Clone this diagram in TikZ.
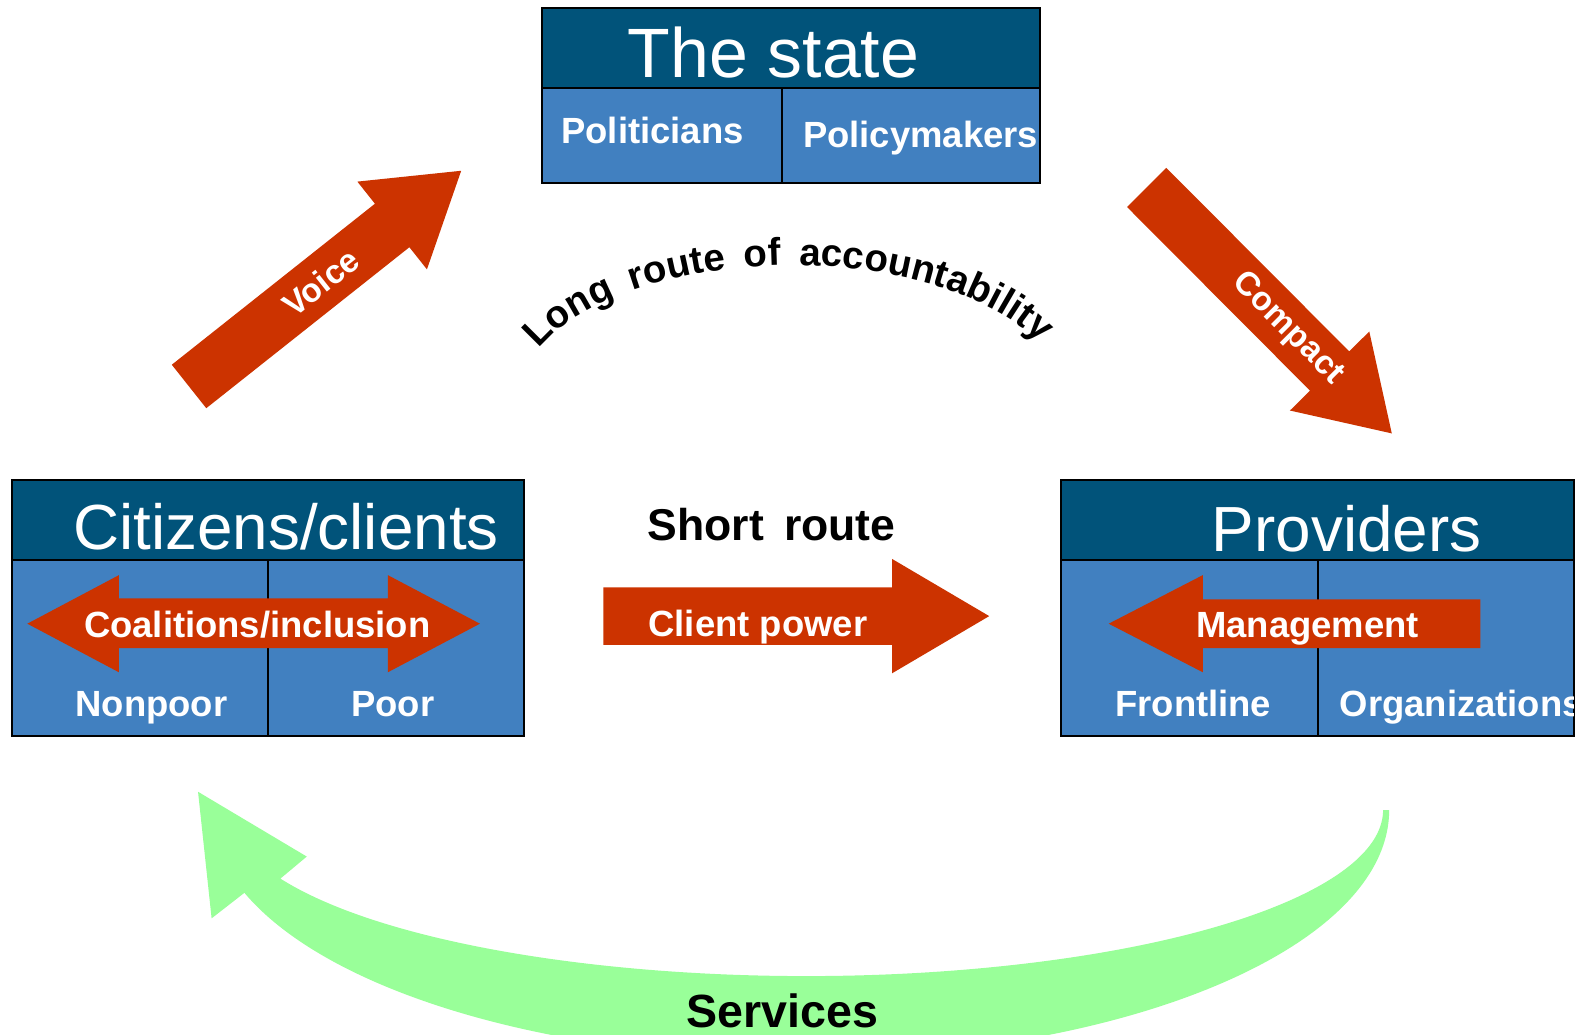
\documentclass[tikz,border=0pt]{standalone}
\usepackage{fontspec}
\setmainfont{Liberation Sans}
\usetikzlibrary{decorations.text}
\definecolor{hdrblue}{RGB}{1,83,122}
\definecolor{cellblue}{RGB}{65,128,192}
\definecolor{arrred}{RGB}{204,51,0}
\definecolor{svcgreen}{RGB}{153,255,153}
\newcommand\lrfont{\fontsize{38}{40}\selectfont\bfseries}
\tikzset{
  hdr/.style={fill=hdrblue, draw=black, line width=2pt},
  cell/.style={fill=cellblue, draw=black, line width=2pt},
  redarrow/.style={fill=arrred},
  title/.style={text=white, font=\fontsize{63}{70}\selectfont, anchor=base, inner sep=0pt},
  lbl/.style={text=white, font=\fontsize{36}{40}\selectfont\bfseries, anchor=base, inner sep=0pt},
  blk/.style={text=black, font=\fontsize{44}{48}\selectfont\bfseries, anchor=base, inner sep=0pt},
}
\begin{document}
\begin{tikzpicture}[x=1pt,y=-1pt]
\clip (0,0) rectangle (1568.4,1022.2);
\fill[white] (0,0) rectangle (1568.4,1022.2);

% ---------- The state ----------
\draw[hdr] (535,8) rectangle (1027,87);
\draw[cell] (535,87) rectangle (772,181);
\draw[cell] (772,87) rectangle (1027,181);
\node[title, font=\fontsize{69}{75}\selectfont] (state) at (764,77) {The state};
\node[lbl] (politicians) at (644.5,142) {Politicians};
\begin{scope}
  \clip (772,87) rectangle (1026,181);
  \node[lbl, anchor=base west] (policymakers) at (793,146) {Policymakers};
\end{scope}

% ---------- Citizens/clients ----------
\draw[hdr] (12,474) rectangle (518,553);
\draw[cell] (12,553) rectangle (265,727);
\draw[cell] (265,553) rectangle (518,727);
\node[title] (citizens) at (282.5,543) {Citizens/clients};
\fill[redarrow] (27,616) -- (117.5,568) -- (117.5,591) -- (383,591) -- (383,568)
  -- (474,616) -- (383,664) -- (383,640) -- (117.5,640) -- (117.5,664) -- cycle;
\node[lbl] (coalitions) at (254,630) {Coalitions/inclusion};
\node[lbl] (nonpoor) at (149.5,708) {Nonpoor};
\node[lbl] (poor) at (388,708) {Poor};

% ---------- Providers ----------
\draw[hdr] (1048,474) rectangle (1555,553);
\draw[cell] (1048,553) rectangle (1302,727);
\draw[cell] (1302,553) rectangle (1555,727);
\node[title] (providers) at (1330,545) {Providers};
\fill[redarrow] (1095,616) -- (1188,568) -- (1188,592) -- (1462,592) -- (1462,640)
  -- (1188,640) -- (1188,664) -- cycle;
\node[lbl] (management) at (1291.5,630) {Management};
\node[lbl] (frontline) at (1178.5,708) {Frontline};
\begin{scope}
  \clip (1302,553) rectangle (1554,727);
  \node[lbl, anchor=base west] (organizations) at (1323,708) {Organizations};
\end{scope}

% ---------- Client power ----------
\fill[redarrow] (596,580) -- (881,580) -- (881,552) -- (977,608.5) -- (881,665)
  -- (881,637) -- (596,637) -- cycle;
\node[lbl] (clientpower) at (748.5,629) {Client power};
\node[blk, font=\fontsize{44}{48}\selectfont\bfseries] (shortroute) at (762,534) {Short\hspace{20pt}route};

% ---------- Voice ----------
\begin{scope}[shift={(186.7,381.7)}, rotate=38.4]
  \fill[redarrow] (0,-27.4) -- (256,-27.4) -- (256,-55.3) -- (343,0) -- (256,55.3)
    -- (256,27.4) -- (0,27.4) -- cycle;
  \node[lbl, anchor=center, rotate=38.4, font=\fontsize{33}{36}\selectfont\bfseries] (voice) at (166,0) {Voice};
\end{scope}

% ---------- Compact ----------
\begin{scope}[shift={(1132.5,185.1)}, rotate=-45.1]
  \fill[redarrow] (0,-27.4) -- (256,-27.4) -- (256,-55.3) -- (343,0) -- (256,55.3)
    -- (256,27.4) -- (0,27.4) -- cycle;
  \node[lbl, anchor=center, rotate=-45.1, font=\fontsize{33}{36}\selectfont\bfseries] (compact) at (197,0) {Compact};
\end{scope}

% ---------- Long route of accountability ----------
\path[decorate, decoration={text along path,
    text={|\lrfont|Long route of accountability},
    text align={fit to path stretching spaces}}]
  ([shift={(782,395.4)}]-157.8:270 and 133.4)
  arc[start angle=-157.8, end angle=-25, x radius=270, y radius=133.4];

% ---------- Services ----------
\fill[svcgreen] (1372,800) arc[start angle=0, end angle=160.5, x radius=582, y radius=245]
  -- (209,907) -- (195.6,782) -- (303,846)
  -- ([shift={(796,800)}]155.6:570 and 164)
  arc[start angle=155.6, end angle=0, x radius=570, y radius=164] -- cycle;
\node[blk, font=\fontsize{46}{50}\selectfont\bfseries] (services) at (773,1015) {Services};
\end{tikzpicture}
\end{document}
